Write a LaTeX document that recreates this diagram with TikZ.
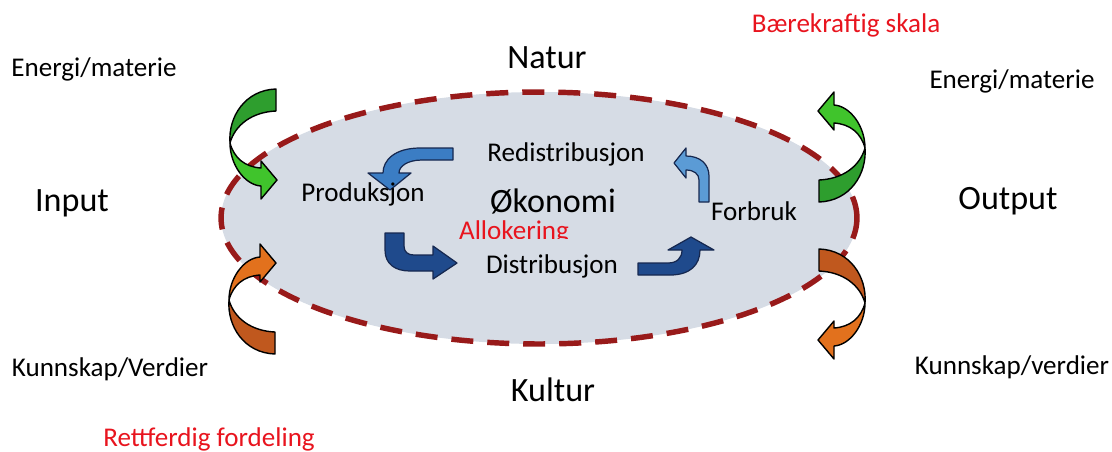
\documentclass[tikz,border=0pt]{standalone}
\usepackage{fontspec}
\setmainfont{Carlito}
\definecolor{ellfill}{RGB}{214,220,229}
\definecolor{elldraw}{RGB}{152,26,26}
\definecolor{gdark}{RGB}{46,158,46}
\definecolor{glight}{RGB}{64,196,44}
\definecolor{odark}{RGB}{192,88,30}
\definecolor{olight}{RGB}{226,113,29}
\definecolor{bmid}{RGB}{59,125,196}
\definecolor{bdark}{RGB}{31,74,140}
\definecolor{blight}{RGB}{91,155,213}
\definecolor{bline}{RGB}{22,40,80}
\definecolor{myred}{RGB}{232,20,30}
\newcommand\smallfnt{\fontsize{15.4pt}{18pt}\selectfont}
\newcommand\bigfnt{\fontsize{19.4pt}{23pt}\selectfont}
\newcommand\curvedblock[2]{%
  \filldraw[fill=#1,draw=black,line width=0.8pt,line join=round]
    (46,-54) .. controls (15,-53) and (-2,-26) .. (0,0)
    .. controls (5,-18) and (22,-31) .. (46,-32) -- cycle;
  \filldraw[fill=#2,draw=black,line width=0.8pt,line join=round]
    (0,0) .. controls (0,22) and (15,42) .. (31,43) -- (31,56) -- (47,37)
    -- (31,18) -- (31,25) .. controls (15,24) and (4,15) .. (0,0) -- cycle;}
\tikzset{
  lbl/.style={inner sep=0pt,font=\smallfnt},
  biglbl/.style={inner sep=0pt,font=\bigfnt},
  redlbl/.style={inner sep=0pt,font=\smallfnt,text=myred},
  blockarrow/.style={draw=bline,line width=0.7pt,line join=round},
}
\begin{document}
\begin{tikzpicture}[x=0.02cm,y=-0.02cm]
\useasboundingbox (0,0) rectangle (1112,451);
% ellipse
\draw[fill=ellfill,draw=elldraw,line width=3.1pt,dash pattern=on 0.44cm off 0.28cm]
  (539,218) ellipse [x radius=6.36cm, y radius=2.52cm];
% side curved arrows
\begin{scope}[shift={(230,143)}]\curvedblock{gdark}{glight}\end{scope}
\begin{scope}[shift={(229,300)},yscale=-1]\curvedblock{odark}{olight}\end{scope}
\begin{scope}[shift={(865,148)},xscale=-1,yscale=-1]\curvedblock{gdark}{glight}\end{scope}
\begin{scope}[shift={(865,303)},xscale=-1]\curvedblock{odark}{olight}\end{scope}
% inner blue arrows
\filldraw[blockarrow,fill=bmid] (453,148) -- (420,148) .. controls (395,148) and (383,160) .. (383,173)
  -- (368,173) -- (390,190) -- (411,173) -- (399,173) .. controls (399,166) and (408,160) .. (422,160)
  -- (453,160) -- cycle;
\filldraw[blockarrow,fill=bdark] (385,233) -- (385,250) .. controls (385,264) and (395,271) .. (410,271)
  -- (433,271) -- (433,279) -- (457,263) -- (433,246) -- (433,255) -- (414,255)
  .. controls (408,255) and (404,252) .. (404,246) -- (404,233) -- cycle;
\filldraw[blockarrow,fill=bdark] (638,263) -- (668,263) .. controls (677,263) and (682,258) .. (682,250)
  -- (668,250) -- (691,237) -- (714,250) -- (700,250) .. controls (700,265) and (690,275) .. (670,275)
  -- (638,275) -- cycle;
\filldraw[blockarrow,fill=blight] (699,202) -- (699,180) .. controls (699,174) and (694,170) .. (686,170)
  -- (686,178) -- (674,163) -- (686,148) -- (686,156) .. controls (700,156) and (709,164) .. (709,176)
  -- (709,202) -- cycle;
% texts
\node[redlbl] (skala) at (846,25) {Bærekraftig skala};
\node[lbl] (emL) at (94,69) {Energi/materie};
\node[biglbl] (natur) at (547,58) {Natur};
\node[lbl] (emR) at (1012,81) {Energi/materie};
\node[biglbl] (input) at (72,203) {Input};
\node[biglbl] (output) at (1008,201) {Output};
\node[lbl] (prod) at (363,194) {Produksjon};
\node[biglbl] (oko) at (553,201) {Økonomi};
\node[lbl] (redis) at (566,154) {Redistribusjon};
\node[lbl] (forbruk) at (754,211) {Forbruk};
\begin{scope}
\clip (400,200) rectangle (640,238);
\node[redlbl] (allok) at (514,232) {Allokering};
\end{scope}
\node[lbl] (dist) at (552,266) {Distribusjon};
\node[lbl] (kvL) at (110,369) {Kunnskap/Verdier};
\node[biglbl] (kultur) at (553,390) {Kultur};
\node[lbl] (kvR) at (1012,367) {Kunnskap/verdier};
\node[redlbl] (rett) at (209,439) {Rettferdig fordeling};
\end{tikzpicture}
\end{document}
